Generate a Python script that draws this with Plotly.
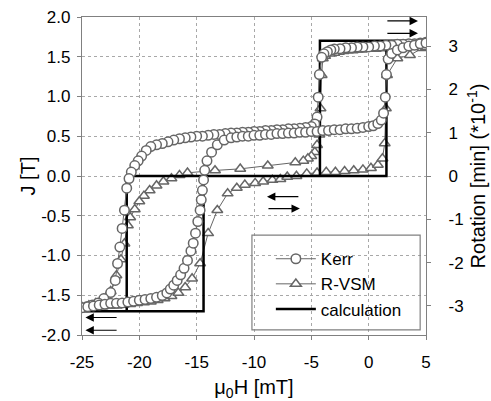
import plotly.graph_objects as go

# ---------------- data ----------------
# Kerr loop (field in mT, rotation in min *10^-1), descending then ascending branch
kerr_h = [5.0, 4.5, 4.0, 3.5, 3.0, 2.5, 2.0, 1.5, 1.0, 0.5, 0.0, -0.5, -1.0, -1.5, -2.0, -2.5,
          -3.0, -3.3, -3.6, -3.9, -4.1, -4.3, -4.4, -4.5, -4.7, -5.0, -5.5, -6.0, -6.5, -7.0,
          -7.5, -8.0, -8.5, -9.0, -9.5, -10.0, -10.5, -11.0, -11.5, -12.0, -12.5, -13.0, -13.5,
          -14.0, -14.5, -15.0, -15.5, -16.0, -16.5, -17.0, -17.5, -18.0, -18.5, -19.0, -19.4,
          -19.8, -20.1, -20.4, -20.7, -20.9, -21.1, -21.3, -21.5, -21.7, -21.9, -22.1, -22.5,
          -23.1, -23.6, -24.1, -24.6, -25.0,
          -24.5, -24.0, -23.5, -23.0, -22.5, -22.0, -21.5, -21.0, -20.5, -20.0, -19.5, -19.0,
          -18.5, -18.0, -17.6, -17.3, -17.0, -16.7, -16.4, -16.1, -15.8, -15.5, -15.3, -15.1,
          -14.9, -14.7, -14.6, -14.5, -14.4, -14.3, -14.1, -13.7, -13.2, -12.6, -12.0, -11.5,
          -11.0, -10.5, -10.0, -9.5, -9.0, -8.5, -8.0, -7.5, -7.0, -6.5, -6.0, -5.5, -5.0,
          -4.5, -4.0, -3.5, -3.0, -2.5, -2.0, -1.5, -1.0, -0.5, 0.0, 0.4, 0.8, 1.1, 1.3, 1.45,
          1.55, 1.7, 2.0, 2.5, 3.0, 3.5, 4.0, 4.5, 5.0]
kerr_rot = [3.09, 3.07, 3.05, 3.05, 3.04, 3.04, 3.02, 3.02, 3.00, 3.00, 2.98, 2.98, 2.98, 2.96,
            2.96, 2.94, 2.93, 2.91, 2.87, 2.82, 2.74, 2.34, 1.82, 1.36, 1.20, 1.14, 1.12, 1.10,
            1.09, 1.09, 1.07, 1.07, 1.05, 1.05, 1.03, 1.03, 1.01, 1.01, 0.99, 0.99, 0.98, 0.96,
            0.96, 0.94, 0.92, 0.92, 0.90, 0.88, 0.86, 0.83, 0.79, 0.75, 0.72, 0.68, 0.59, 0.46,
            0.35, 0.24, 0.09, -0.06, -0.28, -0.79, -1.21, -1.64, -2.02, -2.41, -2.69, -2.83,
            -2.93, -2.98, -3.02, -3.04,
            -3.02, -3.00, -2.98, -2.96, -2.94, -2.94, -2.93, -2.91, -2.89, -2.87, -2.85, -2.83,
            -2.80, -2.76, -2.70, -2.61, -2.52, -2.41, -2.28, -2.13, -1.95, -1.73, -1.55, -1.32,
            -1.05, -0.79, -0.55, -0.33, -0.09, 0.13, 0.35, 0.55, 0.72, 0.83, 0.88, 0.90, 0.92,
            0.92, 0.94, 0.94, 0.96, 0.96, 0.98, 0.98, 0.99, 0.99, 1.01, 1.01, 1.03, 1.03, 1.05,
            1.05, 1.07, 1.07, 1.09, 1.09, 1.10, 1.12, 1.14, 1.16, 1.21, 1.29, 1.45, 1.82, 2.34,
            2.70, 2.83, 2.91, 2.96, 3.00, 3.02, 3.05, 3.07]

# R-VSM loop (field in mT, J in T)
rvsm_h = [5.0, 4.6, 4.2, 3.8, 3.4, 3.0, 2.6, 2.2, 1.8, 1.4, 1.0, 0.6, 0.2, -0.2, -0.6, -1.0,
          -1.4, -1.8, -2.2, -2.6, -3.0, -3.4, -3.8, -4.0, -4.1, -4.2, -4.3, -4.5, -4.7, -5.0,
          -5.3, -5.7, -6.4, -8.8, -11.2, -13.4, -15.8, -16.5, -17.2, -17.9, -18.5, -19.1,
          -19.6, -20.0, -20.4, -20.8, -21.0, -21.3, -21.6, -22.0, -22.5, -23.1, -23.8, -24.4,
          -25.0,
          -24.4, -23.8, -23.2, -22.6, -22.0, -21.4, -20.8, -20.2, -19.6, -19.0, -18.4, -17.8,
          -17.2, -16.6, -16.0, -15.4, -14.7, -14.0, -13.2, -12.3, -11.5, -10.8, -9.9, -9.2,
          -8.4, -7.7, -7.1, -6.3, -5.4, -4.5, -3.7, -2.9, -2.1, -1.3, -0.5, 0.2, 0.8, 1.2, 1.4,
          1.5, 1.6, 2.5, 3.6, 4.7, 5.0]
rvsm_j = [1.64, 1.63, 1.63, 1.63, 1.62, 1.62, 1.62, 1.61, 1.61, 1.61, 1.61, 1.60, 1.60, 1.60,
          1.59, 1.59, 1.58, 1.58, 1.57, 1.56, 1.55, 1.54, 1.51, 1.48, 1.27, 0.85, 0.52, 0.39,
          0.30, 0.25, 0.22, 0.19, 0.17, 0.13, 0.09, 0.07, 0.04, 0.01, -0.03, -0.07, -0.12,
          -0.18, -0.25, -0.32, -0.42, -0.52, -0.62, -0.85, -1.05, -1.25, -1.45, -1.56, -1.60,
          -1.63, -1.65,
          -1.65, -1.64, -1.64, -1.63, -1.63, -1.62, -1.61, -1.60, -1.59, -1.58, -1.56, -1.54,
          -1.51, -1.47, -1.40, -1.29, -1.10, -0.72, -0.43, -0.22, -0.15, -0.11, -0.09, -0.07,
          -0.05, -0.04, -0.01, 0.00, 0.03, 0.04, 0.05, 0.05, 0.06, 0.07, 0.08, 0.10, 0.14, 0.22,
          0.41, 0.85, 1.27, 1.48, 1.52, 1.61, 1.62]

# calculated loop (field in mT, J in T)
calc_h = [-25.0, -14.4, -14.4, 1.55, 1.55, 5.0, -4.25, -4.25, -21.1, -21.1, -25.0]
calc_j = [-1.7, -1.7, 0.0, 0.0, 1.7, 1.7, 1.7, 0.0, 0.0, -1.7, -1.7]

# field-sweep direction arrows: (tail H, head H, J)
arrow_tail_h = [1.5, 1.5, -21.85, -21.85, -6.0, -8.87]
arrow_head_h = [4.3, 4.3, -24.7, -24.7, -8.87, -6.0]
arrow_j = [1.95, 1.795, -1.78, -1.94, -0.26, -0.41]

x_ticks = [-25, -20, -15, -10, -5, 0, 5]
y_ticks = [-2.0, -1.5, -1.0, -0.5, 0.0, 0.5, 1.0, 1.5, 2.0]
y2_ticks = [-3, -2, -1, 0, 1, 2, 3]

# ---------------- figure ----------------
GREY = "#666666"
FONT = "Liberation Sans, Arial, sans-serif"

fig = go.Figure()
fig.add_trace(go.Scatter(
    x=kerr_h, y=kerr_rot, yaxis="y2", name="Kerr", mode="lines+markers",
    line=dict(color=GREY, width=1),
    marker=dict(symbol="circle", size=9.5, color="white", line=dict(color=GREY, width=1.5)),
))
fig.add_trace(go.Scatter(
    x=rvsm_h, y=rvsm_j, name="R-VSM", mode="lines+markers",
    line=dict(color=GREY, width=1),
    marker=dict(symbol="triangle-up", size=9.5, color="white", line=dict(color=GREY, width=1.5)),
))
fig.add_trace(go.Scatter(
    x=calc_h, y=calc_j, name="calculation", mode="lines",
    line=dict(color="black", width=2.5),
))

for th, hh, jj in zip(arrow_tail_h, arrow_head_h, arrow_j):
    fig.add_annotation(x=hh, y=jj, ax=th, ay=jj, xref="x", yref="y", axref="x", ayref="y",
                       text="", showarrow=True, arrowhead=2, arrowsize=1.4, arrowwidth=1.2,
                       arrowcolor="black")

# legend frame (legend itself is transparent)
fig.add_shape(type="rect", xref="paper", yref="paper", x0=0.494, x1=0.983, y0=0.016, y1=0.314,
              line=dict(color="#808080", width=1.2), fillcolor="rgba(0,0,0,0)")

axis_common = dict(showline=True, linecolor="#808080", linewidth=1.2, ticks="outside",
                   ticklen=4, tickcolor="#808080", tickfont=dict(size=17, color="black"),
                   zeroline=False, automargin=False)

fig.update_layout(
    width=491, height=401,
    margin=dict(l=82, r=65, t=17, b=66),
    paper_bgcolor="white", plot_bgcolor="white",
    font=dict(family=FONT, color="black"),
    showlegend=True,
    legend=dict(x=0.549, y=0.295, xanchor="left", yanchor="top", bgcolor="rgba(0,0,0,0)",
                borderwidth=0, font=dict(size=17), itemwidth=40, tracegroupgap=0),
    xaxis=dict(range=[-25, 5], tickvals=x_ticks, ticktext=[str(v) for v in x_ticks],
               mirror=True, showgrid=True, gridcolor="#a8a8a8", griddash="dot", gridwidth=1,
               ticklabelstandoff=7,
               title=dict(text="μ<sub>0</sub>H [mT]", font=dict(size=20), standoff=12),
               **axis_common),
    yaxis=dict(range=[-2, 2], tickvals=y_ticks, ticktext=[f"{v:.1f}" for v in y_ticks],
               mirror=True, showgrid=True, gridcolor="#a8a8a8", griddash="dot", gridwidth=1,
               ticklabelstandoff=3,
               title=dict(text="J [T]", font=dict(size=20), standoff=0),
               **axis_common),
    yaxis2=dict(range=[-3.67, 3.67], overlaying="y", side="right", tickvals=y2_ticks,
                ticktext=[str(v) for v in y2_ticks], showgrid=False,
                ticklabelstandoff=14,
                title=dict(text="Rotation [min] (*10<sup>-1</sup>)", font=dict(size=20),
                           standoff=8),
                **axis_common),
)

fig.write_html("out.html", post_script="document.body.style.margin='0';",
               config={"displayModeBar": False})
